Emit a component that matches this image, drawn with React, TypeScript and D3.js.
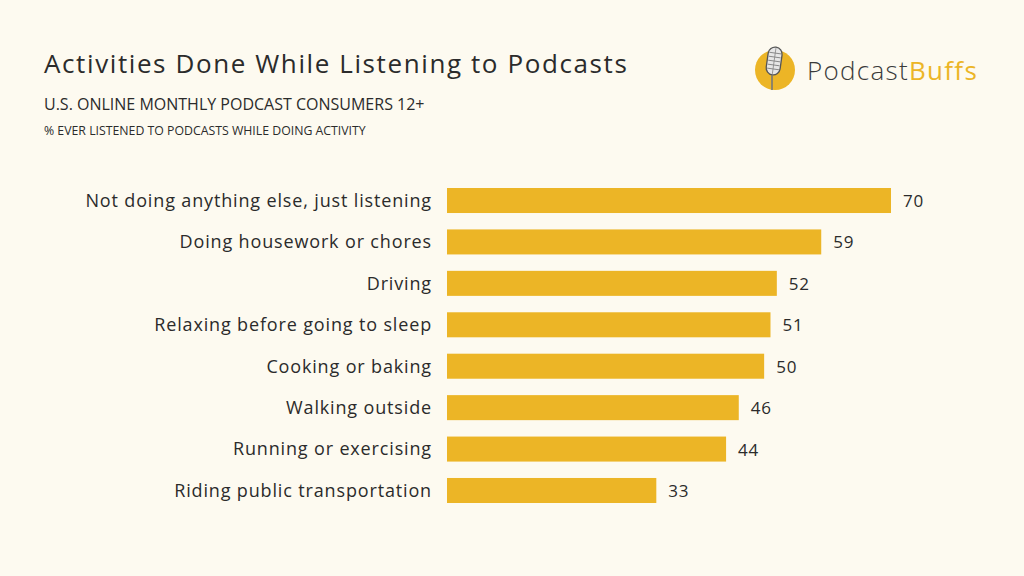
import * as d3 from 'd3'

const categories = [
  'Not doing anything else, just listening',
  'Doing housework or chores',
  'Driving',
  'Relaxing before going to sleep',
  'Cooking or baking',
  'Walking outside',
  'Running or exercising',
  'Riding public transportation',
]
const values = [70, 59, 52, 51, 50, 46, 44, 33]

const BG = '#fdfaf0'
const BAR = '#ecb526'
const TEXT = '#2b2b2b'
const FONT = '"Open Sans", Lato, sans-serif'

export default function App() {
  const width = 1024
  const height = 576
  const x0 = 447

  const x = d3.scaleLinear().domain([0, 70]).range([x0, 891])
  const y = d3
    .scaleBand<string>()
    .domain(categories)
    .range([188, 503])
    .paddingInner(0.396)
    .paddingOuter(0)

  return (
    <svg
      width={width}
      height={height}
      style={{ position: 'absolute', left: 0, top: 0, display: 'block' }}
      fontFamily={FONT}
    >
      <rect width={width} height={height} fill={BG} />

      {/* titles */}
      <text x={44} y={73} fontSize={26} fontWeight={500} fill={TEXT} letterSpacing={1.6}>
        Activities Done While Listening to Podcasts
      </text>
      <text x={44} y={110} fontSize={16} fill={TEXT}>
        U.S. ONLINE MONTHLY PODCAST CONSUMERS 12+
      </text>
      <text x={44} y={135} fontSize={12.3} fill={TEXT}>
        % EVER LISTENED TO PODCASTS WHILE DOING ACTIVITY
      </text>

      {/* logo */}
      <g>
        <circle cx={775} cy={70} r={20} fill={BAR} />
        <g transform="rotate(8 774 62)">
          <rect x={767} y={47} width={14} height={28} rx={7} fill="#e6e6e6" stroke="#555" strokeWidth={1.3} />
          {[53, 57, 61, 65, 69].map((yy) => (
            <line key={yy} x1={768} x2={780} y1={yy} y2={yy} stroke="#777" strokeWidth={0.8} />
          ))}
          <line x1={774} x2={774} y1={48} y2={74} stroke="#888" strokeWidth={0.8} />
        </g>
        <line x1={772} x2={772} y1={75} y2={90} stroke="#777" strokeWidth={1.6} />
        <text x={807} y={80} fontSize={26} fontWeight={300} fill="#3a3a3a" letterSpacing={1.3}>
          Podcast
          <tspan fill={BAR} fontWeight={400}>Buffs</tspan>
        </text>
      </g>

      {/* bars */}
      {categories.map((c, i) => {
        const yy = y(c) as number
        const bh = y.bandwidth()
        return (
          <g key={c}>
            <rect x={x0} y={yy} width={x(values[i]) - x0} height={bh} fill={BAR} />
            <text
              x={432}
              y={yy + bh / 2}
              dy="0.35em"
              textAnchor="end"
              fontSize={18}
              fontWeight={500}
              letterSpacing={0.85}
              fill={TEXT}
            >
              {c}
            </text>
            <text
              x={x(values[i]) + 12}
              y={yy + bh / 2}
              dy="0.38em"
              fontSize={17}
              fontWeight={500}
              letterSpacing={0.8}
              fill={TEXT}
            >
              {values[i]}
            </text>
          </g>
        )
      })}
    </svg>
  )
}
